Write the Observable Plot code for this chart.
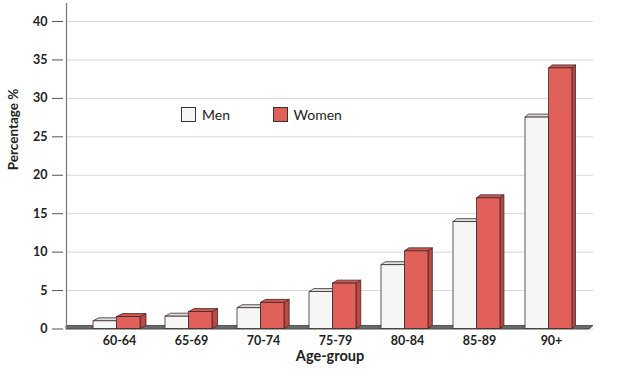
<!DOCTYPE html>
<html>
<head>
<meta charset="utf-8">
<script src="https://cdn.jsdelivr.net/npm/d3@7"></script>
<script src="https://cdn.jsdelivr.net/npm/@observablehq/plot@0.6"></script>
<style>
  html, body { margin: 0; padding: 0; background: #fff; }
  #wrap { position: relative; width: 623px; height: 386px; overflow: hidden; }
  #wrap svg { position: absolute; left: 0; top: 0; }
  .legend-item { position: absolute; display: flex; align-items: center; font-family: Lato, "Open Sans", sans-serif; font-size: 14px; color: #222; line-height: 14px; }
  .legend-swatch { width: 13px; height: 13px; border: 1px solid #333; margin-right: 6px; box-sizing: content-box; }
</style>
</head>
<body>
<div id="wrap"></div>
<script>
// ---- data ----
const ageGroups = ["60-64", "65-69", "70-74", "75-79", "80-84", "85-89", "90+"];
const series = ["Men", "Women"];
const menValues = [1.0, 1.6, 2.7, 4.8, 8.3, 13.9, 27.5];
const womenValues = [1.55, 2.2, 3.4, 5.9, 10.1, 17.0, 33.9];
const yTicks = [0, 5, 10, 15, 20, 25, 30, 35, 40];
const frontColors = ["#f6f6f6", "#e2605a"];
const topColors = ["#dedede", "#d65550"];
const sideColors = ["#cfcfcf", "#bf4641"];

const rows = [];
ageGroups.forEach((age, i) => {
  rows.push({age, sex: series[0], value: menValues[i], gi: i, si: 0});
  rows.push({age, sex: series[1], value: womenValues[i], gi: i, si: 1});
});

const FONT = "Lato, 'Open Sans', sans-serif";
const ns = "http://www.w3.org/2000/svg";

function poly(points, fill) {
  const p = document.createElementNS(ns, "polygon");
  p.setAttribute("points", points.map(d => d.join(",")).join(" "));
  p.setAttribute("fill", fill);
  p.setAttribute("stroke", "#3a2c2c");
  p.setAttribute("stroke-width", "0.8");
  p.setAttribute("stroke-linejoin", "round");
  return p;
}

// 3D bars: render standard bars, split each band between the two series, add top & side faces
function bars3d(data, opts) {
  return Plot.barY(data, {
    ...opts,
    render(index, scales, values, dimensions, context, next) {
      const g = next(index, scales, values, dimensions, context);
      const rects = Array.from(g.querySelectorAll("rect"));
      rects.forEach((r, k) => {
        const d = data[index[k]];
        let x = +r.getAttribute("x");
        const y = +r.getAttribute("y");
        let w = +r.getAttribute("width");
        const h = +r.getAttribute("height");
        w = w / 2;
        x = x + d.si * w;
        r.setAttribute("x", x);
        r.setAttribute("width", w);
        const ddx = 6 - 2.5 * d.gi / (ageGroups.length - 1);
        const ddy = 3;
        const side = poly([[x + w, y], [x + w + ddx, y - ddy], [x + w + ddx, y + h - ddy], [x + w, y + h]], sideColors[d.si]);
        const top = poly([[x, y], [x + ddx, y - ddy], [x + w + ddx, y - ddy], [x + w, y]], topColors[d.si]);
        r.parentNode.insertBefore(side, r);
        r.parentNode.insertBefore(top, r);
      });
      return g;
    }
  });
}

const floor = Plot.ruleY([0], {
  render(index, scales, values, dimensions) {
    const g = document.createElementNS(ns, "g");
    const y0 = scales.y(0);
    const L = dimensions.marginLeft, R = dimensions.width - dimensions.marginRight;
    const p = poly([[L, y0 + 0.5], [R - 4, y0 + 0.5], [R, y0 - 3], [L, y0 - 3]], "#6a6a6a");
    p.setAttribute("stroke", "#3c3c3c");
    g.appendChild(p);
    return g;
  }
});

const chart = Plot.plot({
  width: 623,
  height: 386,
  marginLeft: 66,
  marginRight: 30,
  marginTop: 21,
  marginBottom: 57.5,
  style: {fontFamily: FONT, fontSize: "12.5px", color: "#222", background: "transparent"},
  x: {type: "band", domain: ageGroups, paddingInner: 0.3526, paddingOuter: 0.3065, align: 0.55, label: null},
  y: {domain: [0, 40], label: null},
  marks: [
    Plot.gridY(yTicks, {stroke: "#d6d6d6", strokeOpacity: 1, strokeWidth: 1}),
    Plot.axisY(yTicks, {tickSize: 11, tickPadding: 5, dx: -3, stroke: "#555", fill: "#222", fontWeight: "bold", label: null}),
    Plot.axisX({tickSize: 0, tickPadding: 7, dx: 2.5, fill: "#222", fontWeight: "bold", label: null}),
    floor,
    bars3d(rows, {
      x: "age", y1: 0, y2: "value",
      fill: d => frontColors[d.si],
      stroke: "#3a2c2c", strokeWidth: 0.8
    }),
    Plot.frame({anchor: "left", stroke: "#777", insetTop: -18, strokeWidth: 1.2}),
    Plot.text(["Percentage %"], {frameAnchor: "left", dx: -53, dy: -5, rotate: -90, fontSize: 13.5, fontWeight: "bold", fill: "#222"}),
    Plot.text(["Age-group"], {frameAnchor: "bottom", dy: 32, fontSize: 14.5, fontWeight: "bold", fill: "#222"})
  ]
});
const wrap = document.getElementById("wrap");
wrap.appendChild(chart);

// legend
const legendX = [181, 272.5];
series.forEach((s, i) => {
  const item = document.createElement("div");
  item.className = "legend-item";
  item.style.left = legendX[i] + "px";
  item.style.top = "107px";
  const sw = document.createElement("span");
  sw.className = "legend-swatch";
  sw.style.background = frontColors[i];
  const t = document.createElement("span");
  t.textContent = s;
  item.appendChild(sw);
  item.appendChild(t);
  wrap.appendChild(item);
});
</script>
</body>
</html>
